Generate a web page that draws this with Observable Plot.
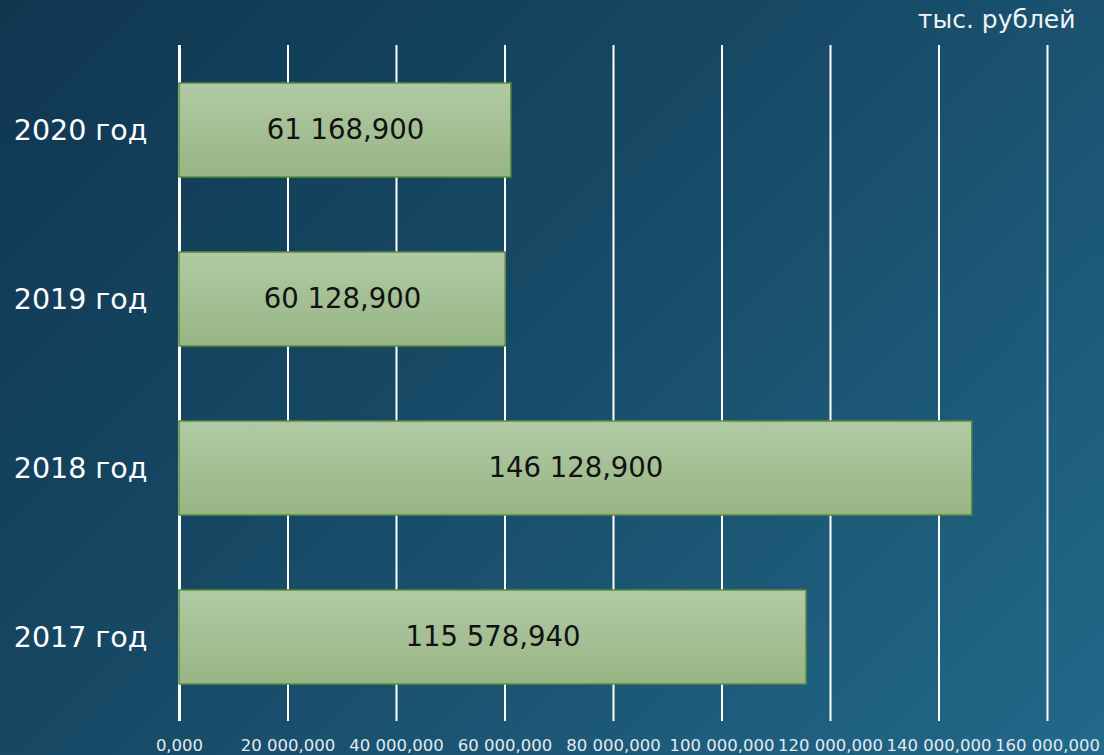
<!DOCTYPE html>
<html>
<head>
<meta charset="utf-8">
<script src="https://cdn.jsdelivr.net/npm/d3@7"></script>
<script src="https://cdn.jsdelivr.net/npm/@observablehq/plot@0.6"></script>
<style>
  html, body { margin: 0; padding: 0; }
  body {
    width: 1104px; height: 755px; overflow: hidden;
    background: linear-gradient(135deg, #103650 0%, #174a66 45%, #22698a 100%);
    font-family: "DejaVu Sans", sans-serif;
  }
</style>
</head>
<body>
<div id="chart"></div>
<script>
const years = ["2020 год", "2019 год", "2018 год", "2017 год"];
const values = [61168.9, 60128.9, 146128.9, 115578.94];
const xTicks = [0, 20000, 40000, 60000, 80000, 100000, 120000, 140000, 160000];
const unitLabel = "тыс. рублей";

const data = years.map((y, i) => ({year: y, value: values[i]}));
const locale = d3.formatLocale({decimal: ",", thousands: " ", grouping: [3], currency: ["", ""]});
const fmt = locale.format(",.3f");

const chart = Plot.plot({
  width: 1104,
  height: 755,
  marginTop: 45,
  marginBottom: 34,
  marginLeft: 179,
  marginRight: 57,
  style: {background: "transparent", fontFamily: "'DejaVu Sans', sans-serif", overflow: "visible"},
  x: {domain: [0, 160000], ticks: xTicks, tickFormat: fmt, label: null},
  y: {domain: years, paddingInner: 0.444, paddingOuter: 0.222, label: null},
  marks: [
    Plot.gridX(xTicks, {stroke: "white", strokeOpacity: 1, strokeWidth: 2}),
    Plot.ruleX([0], {stroke: "white", strokeWidth: 3}),
    Plot.barX(data, {x: "value", y: "year", fill: "url(#barGrad)", stroke: "#5b8c3c", strokeWidth: 1.5}),
    Plot.text(data, {x: d => d.value / 2, y: "year", text: d => fmt(d.value), fill: "#111", fontSize: 27.5}),
    Plot.axisX({ticks: xTicks, tickFormat: fmt, tickSize: 0, tickPadding: 18, fontSize: 16.5, color: "#e2eaef", label: null}),
    Plot.axisY({tickSize: 0, tickPadding: 32, fontSize: 28.5, color: "white", label: null}),
    Plot.text([unitLabel], {frameAnchor: "top-right", text: d => d, dx: 28, dy: -35, fontSize: 25, fill: "#eef3f6", textAnchor: "end"})
  ]
});

const svg = d3.select(chart);
const defs = svg.insert("defs", ":first-child");
const g = defs.append("linearGradient").attr("id", "barGrad").attr("x1", 0).attr("y1", 0).attr("x2", 0).attr("y2", 1);
g.append("stop").attr("offset", "0%").attr("stop-color", "#b1caa5");
g.append("stop").attr("offset", "100%").attr("stop-color", "#97b584");
document.getElementById("chart").appendChild(chart);
</script>
</body>
</html>
